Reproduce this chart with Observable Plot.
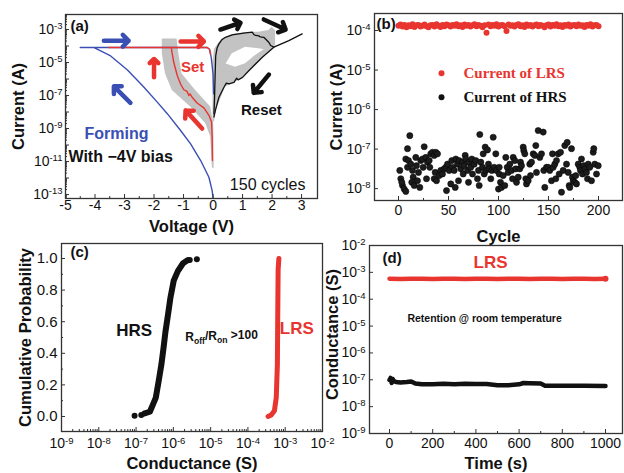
<!DOCTYPE html>
<html><head><meta charset="utf-8">
<script src="https://cdn.jsdelivr.net/npm/d3@7"></script>
<script src="https://cdn.jsdelivr.net/npm/@observablehq/plot@0.6"></script>
<style>
body{margin:0;background:#fff;}
#fig{position:relative;width:624px;height:473px;overflow:hidden;background:#fff;}
#fig > div{position:absolute;}
</style></head><body><div id="fig"></div>
<script>
const FONT = '"Liberation Sans", Arial, Helvetica, sans-serif';
const SERIF = '"Liberation Serif", "Times New Roman", serif';
const RED = "#e8352f", BLUE = "#3a4fb3", BLACK = "#111111", GRAY = "#c3c3c3", AXC = "#333333";

// ---------- Panel (a): I-V curves, [voltage (V), log10 current (A)] ----------
const formingCurve = [[0.0,-13.2],[-0.03,-12.76],[-0.14,-11.95],[-0.42,-10.94],[-0.76,-9.93],[-1.1,-9.12],[-1.55,-8.1],[-1.89,-7.4],[-2.34,-6.5],[-2.9,-5.45],[-3.47,-4.6],[-4.03,-4.09],[-4.5,-4.09],[-3.5,-4.09],[-0.2,-4.09],[-0.12,-4.2],[-0.06,-4.7],[0.0,-5.7],[0.02,-6.9]];
const setCurve = [[-0.02,-10.94],[-0.03,-9.5],[-0.05,-8.6],[-0.14,-8.2],[-0.31,-7.75],[-0.54,-7.45],[-0.71,-7.1],[-0.78,-6.9],[-0.82,-7.0],[-0.88,-6.75],[-0.99,-6.65],[-1.1,-6.3],[-1.21,-5.8],[-1.33,-5.0],[-1.4,-4.3],[-1.41,-4.09],[-3.53,-4.09],[-0.2,-4.09],[-0.12,-4.2],[-0.08,-4.5]];
const resetUp = [[0.03,-8.1],[0.05,-7.2],[0.07,-5.8],[0.09,-4.6],[0.14,-4.1],[0.2,-3.87],[0.31,-3.6],[0.42,-3.47],[0.65,-3.33],[0.87,-3.26],[1.1,-3.2],[1.33,-3.16],[1.38,-3.3],[1.44,-3.36],[1.55,-3.38],[1.6,-3.45],[1.72,-3.47],[1.83,-3.67],[1.9,-3.8],[1.95,-3.97],[2.06,-4.07]];
const resetDown = [[3.02,-3.26],[2.57,-3.67],[2.06,-4.07],[1.67,-4.68],[1.22,-5.48],[1.0,-5.9],[0.85,-6.05],[0.8,-5.95],[0.71,-6.2],[0.54,-6.3],[0.45,-6.25],[0.37,-6.5],[0.2,-7.1],[0.08,-7.9],[0.03,-8.3]];
// gray envelope of 150 cycles: set side [log10 I, V left, V right]
const setCloud = [[-3.57,-1.72,-1.22],[-4.47,-1.72,-1.16],[-5.7,-1.61,-1.05],[-6.7,-1.38,-0.59],[-7.7,-0.76,-0.08],[-8.7,-0.25,0.02],[-9.5,-0.08,0.03],[-11.4,-0.02,0.04]];
// reset side [V, log10 I low, log10 I high]
const resetCloudUpper = [[0.0,-8.6,-5.0],[0.05,-8.6,-4.2],[0.14,-7.6,-3.97],[0.31,-5.48,-3.57],[0.65,-4.47,-3.3],[1.1,-4.07,-3.18],[1.55,-4.17,-3.16],[1.89,-4.27,-3.06],[2.0,-4.17,-2.86],[2.12,-3.97,-3.06]];
const resetCloudLower = [[0.1,-7.8,-5.2],[0.2,-7.5,-5.08],[0.42,-6.5,-5.08],[0.76,-6.19,-5.28],[1.1,-5.79,-5.08],[1.44,-5.18,-4.58],[1.78,-4.58,-4.17],[2.06,-4.17,-4.0]];
// direction arrows [V1, logI1, V2, logI2, color]
const arrowsA = [[-3.7,-3.68,-2.86,-3.68,BLUE],[-2.8,-7.44,-3.36,-6.44,BLUE],[-1.1,-3.72,-0.31,-3.72,RED],[-2.0,-5.89,-2.0,-4.78,RED],[-0.37,-9.0,-0.93,-7.9,RED],[0.25,-3.0,0.93,-2.59,BLACK],[1.72,-2.39,2.46,-3.0,BLACK],[1.89,-5.73,1.38,-6.84,BLACK]];
const labelsA = [["(a)",-4.83,-2.82],["Set",-0.69,-5.3],["Reset",1.64,-7.9],["Forming",-3.27,-9.3],["With \u22124V bias",-4.9,-10.7],["150 cycles",1.85,-12.39]];

// ---------- Panel (b): cycling ----------
const lrsCycles = d3.range(0, 201, 2);
const lrsLogB = [-3.88,-3.85,-3.90,-3.86,-3.92,-3.87,-3.89,-3.84,-3.91,-3.87,
-3.86,-3.90,-3.88,-3.85,-3.89,-3.92,-3.87,-3.86,-3.90,-3.84,
-3.88,-3.91,-3.86,-3.89,-3.85,-3.87,-3.90,-3.86,-3.88,-3.84,
-3.89,-3.87,-3.91,-3.85,-3.88,-3.86,-3.90,-3.87,-3.84,-3.89,
-3.86,-3.88,-3.92,-3.87,-4.06,-3.85,-3.89,-3.86,-3.88,-3.84,
-3.90,-3.87,-3.86,-3.89,-4.01,-3.85,-3.88,-3.87,-3.90,-3.86,
-3.84,-3.89,-3.87,-3.91,-3.85,-3.88,-3.86,-3.90,-3.87,-3.85,
-3.89,-3.86,-3.88,-3.92,-3.87,-3.85,-3.90,-3.86,-3.88,-3.84,
-3.89,-3.87,-3.91,-3.86,-3.88,-3.85,-3.90,-3.87,-3.86,-3.89,
-3.85,-3.88,-3.87,-3.91,-3.86,-3.88,-3.84,-3.90,-3.87,-3.86,-3.89];
// HRS [cycle, log10 current]
const hrsB = [[1.3,-7.54],[2.3,-7.75],[4,-7.92],[5.7,-8.01],[7.3,-8.07],[3.3,-7.84],[9,-6.99],[11.3,-6.66],[7.3,-7.25],[10,-7.29],[9,-7.46],[12.3,-7.38],[14,-7.54],[14.7,-7.71],[13.3,-7.84],[15.7,-7.92],[17.3,-7.21],[18,-7.42],[20,-7.59],[19,-7.80],[21.3,-7.97],[22.3,-7.29],[24,-7.25],[25.7,-6.94],[24.7,-7.46],[27.3,-7.21],[29,-7.33],[28,-7.75],[30.7,-7.29],[32.3,-7.12],[31.3,-7.46],[34,-7.08],[35.7,-7.16],[37.3,-7.08],[39,-7.12],[36.7,-7.59],[35.7,-7.75],[38,-7.80],[40.7,-7.67],[42.3,-7.54],[44,-7.63],[45.7,-7.50],[47.3,-7.46],[48,-8.05],[49,-7.38],[50.7,-7.54],[52.3,-7.88],[53.3,-7.29],[54,-7.46],[55.7,-7.54],[56.7,-7.97],[57.3,-7.25],[59,-7.38],[60,-7.80],[60.7,-7.29],[62.3,-7.50],[64,-7.33],[64.7,-7.63],[65.7,-7.42],[66.7,-7.16],[67.3,-7.25],[69,-7.54],[70,-7.84],[70.7,-7.33],[72.3,-7.46],[73.3,-7.25],[74,-7.63],[75.7,-7.38],[77.3,-7.29],[79,-7.75],[80,-7.54],[80.7,-7.92],[81.3,-6.63],[82.3,-7.33],[84,-7.46],[84.7,-7.12],[85.7,-7.63],[86.7,-6.95],[87.3,-7.54],[89,-7.02],[90,-7.38],[90.7,-7.50],[92.3,-7.75],[93.3,-7.54],[94.7,-6.70],[95.7,-7.46],[97.3,-7.12],[98,-7.54],[100,-8.01],[100.7,-7.46],
[100.7,-7.63],[102,-7.84],[103,-7.97],[104.7,-7.67],[106.3,-7.92],[107.3,-7.21],[108.7,-7.46],[109.7,-7.59],[111.3,-7.38],[113,-7.54],[114,-7.75],[114.7,-7.21],[116.3,-7.29],[117.3,-7.50],[118,-7.84],[119.7,-7.71],[121.3,-7.50],[122,-7.33],[123,-7.42],[124.7,-6.95],[125.3,-7.04],[126.3,-7.12],[127.3,-7.75],[128,-7.88],[129.7,-7.80],[131.3,-7.38],[132,-7.67],[133,-7.33],[134.7,-7.12],[136.3,-7.16],[137.3,-6.91],[138,-7.59],[139.7,-6.53],[141.3,-7.21],[143,-7.12],[144.7,-6.57],[145.3,-7.54],[146.3,-7.97],[148,-7.46],[149.7,-7.46],[151.3,-7.54],[153,-7.80],[154,-7.12],[154.7,-7.46],[156.3,-7.38],[157.3,-7.75],[158,-7.29],[159.7,-7.12],[160.7,-7.63],[162,-7.08],[163,-8.09],[164.7,-7.54],[166.3,-6.91],[168,-7.38],[168.7,-6.83],[169.7,-7.59],[170.7,-7.92],[171.3,-7.97],[173,-6.99],[174,-7.71],[174.7,-7.80],[176.3,-7.84],[177.3,-7.67],[178,-7.88],[179.7,-7.38],[181.3,-7.46],[182,-7.54],[183,-7.25],[184,-7.63],[185.3,-7.42],[186.3,-7.50],[188,-7.59],[189,-7.75],[189.7,-7.38],[191.3,-7.46],[193,-7.80],[194.7,-7.08],[195.3,-6.99],[196.3,-7.38],[198,-7.63],[199.7,-7.42]];
const legendB = [["Current of LRS",-5.08,RED],["Current of HRS",-5.69,BLACK]];
const legendBx = [43, 65];

// ---------- Panel (c): cumulative probability [log10 conductance, probability] ----------
const hrsCdf = [[-6.77,0.02],[-6.63,0.03],[-6.54,0.08],[-6.47,0.12],[-6.39,0.23],[-6.32,0.33],[-6.26,0.44],[-6.21,0.54],[-6.14,0.65],[-6.08,0.75],[-5.99,0.86],[-5.88,0.92],[-5.74,0.97],[-5.61,0.99]];
const hrsCdfEnds = [[-7.04,0.004],[-6.86,0.01],[-5.37,0.995],[-5.56,0.99]];
const lrsCdf = [[-3.46,0.0],[-3.375,0.01],[-3.29,0.036],[-3.24,0.12],[-3.21,0.33],[-3.2,0.65],[-3.19,0.93],[-3.17,1.0]];
const labelsC = [["(c)",-8.76,1.04],["HRS",-7.05,0.544],["R_off/R_on >100",-5.68,0.5],["LRS",-2.69,0.557]];

// ---------- Panel (d): retention [time (s), log10 conductance] ----------
const lrsD = [[0,-3.24],[50,-3.25],[100,-3.24],[150,-3.24],[200,-3.25],[250,-3.24],[300,-3.24],[350,-3.25],[400,-3.24],[450,-3.24],[500,-3.25],[550,-3.24],[600,-3.24],[650,-3.25],[700,-3.24],[750,-3.24],[800,-3.25],[850,-3.24],[900,-3.24],[950,-3.25],[1000,-3.24]];
const hrsD = [[0,-7.01],[5,-6.93],[10,-7.12],[15,-6.97],[20,-7.05],[30,-7.08],[50,-7.1],[80,-7.08],[100,-7.06],[120,-7.14],[150,-7.17],[200,-7.17],[250,-7.15],[300,-7.17],[350,-7.15],[400,-7.16],[450,-7.16],[500,-7.2],[550,-7.2],[600,-7.17],[620,-7.12],[650,-7.13],[700,-7.14],[720,-7.22],[800,-7.22],[900,-7.22],[1000,-7.23]];
const labelsD = [["(d)",-32,-2.46],["LRS",468,-2.63],["Retention @ room temperature",83,-4.71]];

// ---------- helpers ----------
const E = l => Math.pow(10, l);
const expFmt = d => "10^" + Math.round(Math.log10(d));
function decades(lo, hi){ const a=[]; for(let e=lo;e<=hi;e++) a.push(E(e)); return a; }
function minorLog(lo, hi, dom){ const a=[]; for(let e=lo;e<hi;e++) for(let k=2;k<=9;k++){ const v=k*E(e); if(v>dom[0]&&v<dom[1]) a.push(v);} return a; }
const tickStyle = {stroke: AXC, strokeWidth: 1};
const leftTicks = (vals, len, fw) => Plot.tickY(vals, {y: d=>d, insetRight: fw - len, ...tickStyle});
const bottomTicks = (vals, len, fh) => Plot.tickX(vals, {x: d=>d, insetTop: fh - len, ...tickStyle});
const frame = () => Plot.frame({stroke: AXC, strokeWidth: 1.3});
const baseStyle = {background: "transparent", overflow: "visible", fontFamily: FONT, color: "#111"};
const yTitle = (t, dx, dy=0) => Plot.text([t], {text: d=>d, frameAnchor: "left", textAnchor: "middle", lineAnchor: "middle", rotate: -90, dx, dy, fontSize: 16.5, fontWeight: "bold", fill: "#111"});
const xTitle = (t, dy) => Plot.text([t], {text: d=>d, frameAnchor: "bottom", textAnchor: "middle", lineAnchor: "middle", dy, fontSize: 16.5, fontWeight: "bold", fill: "#111"});

function place(svg, left, top, w, h){
  const div = document.createElement("div");
  div.style.left = left+"px"; div.style.top = top+"px"; div.style.width = w+"px"; div.style.height = h+"px";
  div.appendChild(svg); document.getElementById("fig").appendChild(div);
  const NS = "http://www.w3.org/2000/svg";
  svg.querySelectorAll("text").forEach(t => {
    const m = /^10\^(-?\d+)$/.exec(t.textContent);
    if (m) {
      t.textContent = "10";
      const s = document.createElementNS(NS, "tspan");
      s.setAttribute("dy", "-0.5em"); s.setAttribute("font-size", "0.68em"); s.textContent = m[1];
      t.appendChild(s);
    }
    const r = /^R_(\w+)\/R_(\w+)(.*)$/.exec(t.textContent);
    if (r) {
      t.textContent = "R";
      const parts = [[r[1], "0.3em", true], ["/R", "-0.3em", false], [r[2], "0.3em", true], [r[3], "-0.3em", false]];
      parts.forEach(([txt, dy, sub]) => {
        const s = document.createElementNS(NS, "tspan");
        s.setAttribute("dy", dy); if (sub) s.setAttribute("font-size", "0.72em");
        s.textContent = txt; t.appendChild(s);
      });
    }
  });
}

// ---------- Panel (a) ----------
{
  const W=320, H=232, mt=14, mr=3, mb=34, ml=65, fw=W-ml-mr, fh=H-mt-mb;
  const yd = [E(-13.24), E(-2.09)];
  const txt = (i, o) => Plot.text([labelsA[i]], {x: d=>d[1], y: d=>E(d[2]), text: d=>d[0], fontWeight: "bold", ...o});
  const svg = Plot.plot({
    width: W, height: H, marginTop: mt, marginRight: mr, marginBottom: mb, marginLeft: ml,
    style: baseStyle,
    x: {domain: [-5, 3.54]},
    y: {type: "log", domain: yd},
    color: {type: "identity"},
    marks: [
      Plot.areaX(setCloud, {y: d=>E(d[0]), x1: d=>d[1], x2: d=>d[2], fill: GRAY}),
      Plot.areaY(resetCloudUpper, {x: d=>d[0], y1: d=>E(d[1]), y2: d=>E(d[2]), fill: GRAY}),
      Plot.areaY(resetCloudLower, {x: d=>d[0], y1: d=>E(d[1]), y2: d=>E(d[2]), fill: GRAY}),
      Plot.line(formingCurve, {x: d=>d[0], y: d=>E(d[1]), stroke: BLUE, strokeWidth: 1.4, clip: true}),
      Plot.line(setCurve, {x: d=>d[0], y: d=>E(d[1]), stroke: RED, strokeWidth: 1.4, clip: true}),
      Plot.line(resetUp, {x: d=>d[0], y: d=>E(d[1]), stroke: BLACK, strokeWidth: 1.3, clip: true}),
      Plot.line(resetDown, {x: d=>d[0], y: d=>E(d[1]), stroke: BLACK, strokeWidth: 1.3, clip: true}),
      Plot.arrow(arrowsA, {x1: d=>d[0], y1: d=>E(d[1]), x2: d=>d[2], y2: d=>E(d[3]), stroke: d=>d[4], strokeWidth: 4.5, headLength: 7, headAngle: 90}),
      leftTicks(decades(-13, -3), 4, fw),
      leftTicks(minorLog(-14, -2, yd), 2, fw),
      bottomTicks(d3.range(-5, 4), 4, fh),
      bottomTicks(d3.range(-4.5, 3.5, 1), 2, fh),
      Plot.axisY({ticks: decades(-13, -3).filter((d,i)=>i%2===0), tickFormat: expFmt, tickSize: 0, tickPadding: 3, fontSize: 14, label: null}),
      Plot.axisX({ticks: d3.range(-5, 4), tickFormat: d=>String(d), tickSize: 0, tickPadding: 2, fontSize: 14, label: null}),
      frame(),
      txt(0, {fontSize: 15, textAnchor: "start", fill: BLACK}),
      txt(1, {fontSize: 15, fill: RED}),
      txt(2, {fontSize: 15, fill: BLACK}),
      txt(3, {fontSize: 16, fill: BLUE}),
      txt(4, {fontSize: 16, textAnchor: "start", fill: BLACK}),
      Plot.text([labelsA[5]], {x: d=>d[1], y: d=>E(d[2]), text: d=>d[0], fontSize: 16, fill: BLACK}),
      yTitle("Current (A)", -46.5),
      xTitle("Voltage (V)", 28)
    ]
  });
  place(svg, 0, 0, W, H);
}

// ---------- Panel (b) ----------
{
  const W=314, H=245, mt=13, mr=2, mb=45, ml=64, fw=W-ml-mr, fh=H-mt-mb;
  const yd = [E(-8.3), E(-3.57)];
  const svg = Plot.plot({
    width: W, height: H, marginTop: mt, marginRight: mr, marginBottom: mb, marginLeft: ml,
    style: baseStyle,
    x: {domain: [-24, 224]},
    y: {type: "log", domain: yd},
    marks: [
      Plot.dot(lrsLogB, {x: (d,i)=>lrsCycles[i], y: d=>E(d), r: 3, fill: RED}),
      Plot.dot(hrsB, {x: d=>d[0], y: d=>E(d[1]), r: 3.1, fill: "#1c1c1c", stroke: "#000", strokeWidth: 0.5}),
      Plot.dot(legendB, {x: legendBx[0], y: d=>E(d[1]), r: 3, fill: d=>d[2]}),
      Plot.text(legendB, {x: legendBx[1], y: d=>E(d[1]), text: d=>d[0], fill: d=>d[2], textAnchor: "start", fontFamily: SERIF, fontWeight: "bold", fontSize: 15}),
      leftTicks(decades(-8, -4), 4, fw),
      bottomTicks(d3.range(0, 201, 50), 4, fh),
      bottomTicks(d3.range(25, 201, 50), 2, fh),
      Plot.axisY({ticks: decades(-8, -4), tickFormat: expFmt, tickSize: 0, tickPadding: 4, fontSize: 14, label: null}),
      Plot.axisX({ticks: d3.range(0, 201, 50), tickFormat: d=>String(d), tickSize: 0, tickPadding: 5, fontSize: 14, label: null}),
      frame(),
      Plot.text(["(b)"], {x: -22, y: E(-3.85), text: d=>d, textAnchor: "start", fontWeight: "bold", fontSize: 15}),
      yTitle("Current (A)", -38),
      xTitle("Cycle", 36)
    ],
    color: {type: "identity"}
  });
  place(svg, 310, 0, W, H);
}

// ---------- Panel (c) ----------
{
  const W=330, H=243, mt=13, mr=8, mb=42, ml=61, fw=W-ml-mr, fh=H-mt-mb;
  const xd = [E(-9), E(-2)];
  const svg = Plot.plot({
    width: W, height: H, marginTop: mt, marginRight: mr, marginBottom: mb, marginLeft: ml,
    style: baseStyle,
    x: {type: "log", domain: xd},
    y: {domain: [-0.095, 1.095]},
    marks: [
      Plot.line(hrsCdf, {x: d=>E(d[0]), y: d=>d[1], stroke: BLACK, strokeWidth: 6}),
      Plot.dot(hrsCdfEnds, {x: d=>E(d[0]), y: d=>d[1], r: 3, fill: BLACK}),
      Plot.line(lrsCdf, {x: d=>E(d[0]), y: d=>d[1], stroke: RED, strokeWidth: 5}),
      leftTicks(d3.range(0, 1.01, 0.2), 4, fw),
      leftTicks(d3.range(0.1, 1.0, 0.2), 2, fw),
      bottomTicks(decades(-8, -3), 4, fh),
      bottomTicks(minorLog(-9, -2, xd), 2, fh),
      Plot.axisY({ticks: d3.range(0, 1.01, 0.2), tickFormat: d3.format(".1f"), tickSize: 0, tickPadding: 4, fontSize: 15, label: null}),
      Plot.axisX({ticks: decades(-9, -2), tickFormat: expFmt, tickSize: 0, tickPadding: 7, fontSize: 14, label: null}),
      frame(),
      Plot.text([labelsC[0]], {x: d=>E(d[1]), y: d=>d[2], text: d=>d[0], textAnchor: "start", fontWeight: "bold", fontSize: 15}),
      Plot.text([labelsC[1]], {x: d=>E(d[1]), y: d=>d[2], text: d=>d[0], fontWeight: "bold", fontSize: 17}),
      Plot.text([labelsC[2]], {x: d=>E(d[1]), y: d=>d[2], text: d=>d[0], textAnchor: "start", fontWeight: "bold", fontSize: 12}),
      Plot.text([labelsC[3]], {x: d=>E(d[1]), y: d=>d[2], text: d=>d[0], fontWeight: "bold", fontSize: 17, fill: RED}),
      yTitle("Cumulative Probability", -36),
      xTitle("Conductance (S)", 32)
    ]
  });
  place(svg, 0, 230, W, H);
}

// ---------- Panel (d) ----------
{
  const W=314, H=243, mt=15, mr=2, mb=40, ml=59, fw=W-ml-mr, fh=H-mt-mb;
  const yd = [E(-9), E(-2)];
  const svg = Plot.plot({
    width: W, height: H, marginTop: mt, marginRight: mr, marginBottom: mb, marginLeft: ml,
    style: baseStyle,
    x: {domain: [-92.6, 1078.7]},
    y: {type: "log", domain: yd},
    marks: [
      Plot.line(lrsD, {x: d=>d[0], y: d=>E(d[1]), stroke: RED, strokeWidth: 4.5}),
      Plot.dot(lrsD.slice(-1), {x: d=>d[0], y: d=>E(d[1]), r: 3, fill: RED}),
      Plot.line(hrsD, {x: d=>d[0], y: d=>E(d[1]), stroke: BLACK, strokeWidth: 4.5}),
      leftTicks(decades(-8, -3), 4, fw),
      bottomTicks(d3.range(0, 1001, 200), 4, fh),
      bottomTicks(d3.range(100, 1000, 200), 2, fh),
      Plot.axisY({ticks: decades(-9, -2), tickFormat: expFmt, tickSize: 0, tickPadding: 4, fontSize: 14, label: null}),
      Plot.axisX({ticks: d3.range(0, 1001, 200), tickFormat: d=>String(d), tickSize: 0, tickPadding: 5, fontSize: 14, label: null}),
      frame(),
      Plot.text([labelsD[0]], {x: d=>d[1], y: d=>E(d[2]), text: d=>d[0], textAnchor: "start", fontWeight: "bold", fontSize: 15}),
      Plot.text([labelsD[1]], {x: d=>d[1], y: d=>E(d[2]), text: d=>d[0], fontWeight: "bold", fontSize: 17, fill: RED}),
      Plot.text([labelsD[2]], {x: d=>d[1], y: d=>E(d[2]), text: d=>d[0], textAnchor: "start", fontWeight: "bold", fontSize: 10.5}),
      yTitle("Conductance (S)", -37, -5),
      xTitle("Time (s)", 30)
    ]
  });
  place(svg, 310, 230, W, H);
}
</script></body></html>
